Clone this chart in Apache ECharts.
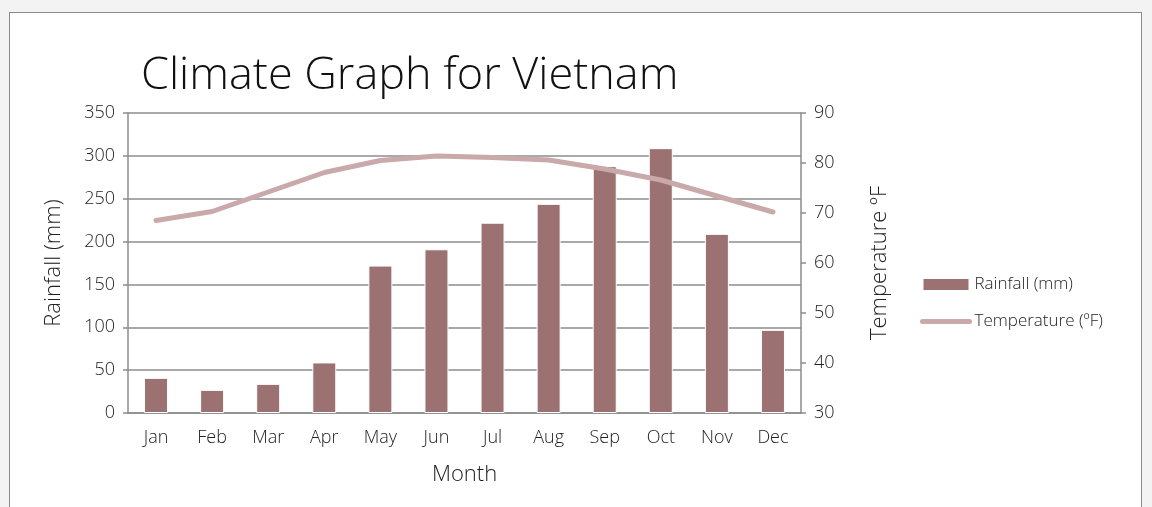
<!DOCTYPE html>
<html>
<head>
<meta charset="utf-8">
<script src="https://cdn.jsdelivr.net/npm/echarts@6/dist/echarts.min.js"></script>
<style>
  html, body { margin: 0; padding: 0; background: #f3f3f3; }
  #frame { position: absolute; left: 9px; top: 12px; width: 1131px; height: 520px; background: #fff; border: 1.5px solid #8a8a8a; }
  #chart { position: absolute; left: 0; top: 0; width: 1152px; height: 507px; }
</style>
</head>
<body>
<div id="frame"></div>
<div id="chart"></div>
<script>
const months = ['Jan', 'Feb', 'Mar', 'Apr', 'May', 'Jun', 'Jul', 'Aug', 'Sep', 'Oct', 'Nov', 'Dec']
const rainfall = [41, 27, 34, 59, 172, 191, 222, 244, 288, 309, 209, 97]
const temperature = [68.5, 70.3, 74.2, 78.1, 80.5, 81.4, 81.1, 80.6, 78.8, 76.6, 73.4, 70.2]

const font = 'Open Sans'
const textColor = '#222'
const axisGray = '#8c8c8c'
const lineColor = '#c9a9aa'

const chart = echarts.init(document.getElementById('chart'))
chart.setOption({
  backgroundColor: 'transparent',
  textStyle: { fontFamily: font, fontWeight: 300 },
  title: {
    text: 'Climate Graph for Vietnam',
    left: 136,
    top: 49,
    textStyle: { fontFamily: font, fontSize: 45, fontWeight: 300, color: '#111' },
  },
  legend: {
    orient: 'vertical',
    left: 915,
    top: 271,
    itemWidth: 47,
    itemHeight: 13,
    itemGap: 20,
    textStyle: { fontFamily: font, fontWeight: 300, fontSize: 17, color: textColor },
    data: [
      { name: 'Rainfall (mm)', icon: 'rect' },
      { name: 'Temperature (ºF)', itemStyle: { opacity: 0 }, lineStyle: { width: 5, color: lineColor } },
    ],
  },
  grid: { left: 128, right: 351, top: 113, height: 300 },
  xAxis: {
    type: 'category',
    data: months,
    name: 'Month',
    nameLocation: 'middle',
    nameGap: 51,
    nameTextStyle: { fontFamily: font, fontWeight: 300, fontSize: 22, color: textColor },
    axisLine: { lineStyle: { color: axisGray, width: 1.5 } },
    axisTick: { length: 6, lineStyle: { color: axisGray, width: 1.5 } },
    axisLabel: { fontFamily: font, fontWeight: 300, fontSize: 18, color: textColor, margin: 16 },
  },
  yAxis: [
    {
      type: 'value',
      min: 0,
      max: 350,
      interval: 50,
      name: 'Rainfall (mm)',
      nameLocation: 'middle',
      nameGap: 63,
      nameTextStyle: { fontFamily: font, fontWeight: 300, fontSize: 22, color: textColor },
      axisLine: { show: true, lineStyle: { color: axisGray, width: 1.5 } },
      axisTick: { show: true, length: 5, lineStyle: { color: axisGray, width: 1.5 } },
      axisLabel: { fontFamily: font, fontWeight: 300, fontSize: 18, color: textColor, margin: 13 },
      splitLine: { lineStyle: { color: axisGray, width: 1.5 } },
    },
    {
      type: 'value',
      min: 30,
      max: 90,
      interval: 10,
      position: 'right',
      name: 'Temperature ºF',
      nameLocation: 'middle',
      nameGap: 68,
      nameRotate: 90,
      nameTextStyle: { fontFamily: font, fontWeight: 300, fontSize: 22, color: textColor },
      axisLine: { show: true, lineStyle: { color: axisGray, width: 1.5 } },
      axisTick: { show: true, length: 5, lineStyle: { color: axisGray, width: 1.5 } },
      axisLabel: { fontFamily: font, fontWeight: 300, fontSize: 18, color: textColor, margin: 13 },
      splitLine: { show: false },
    },
  ],
  series: [
    {
      name: 'Rainfall (mm)',
      type: 'bar',
      data: rainfall,
      barWidth: 24,
      itemStyle: { color: '#9b7171', borderColor: '#fff', borderWidth: 1 },
    },
    {
      name: 'Temperature (ºF)',
      type: 'line',
      yAxisIndex: 1,
      data: temperature,
      symbol: 'none',
      lineStyle: { color: lineColor, width: 5, cap: 'round', join: 'round' },
      itemStyle: { color: lineColor },
    },
  ],
})
</script>
</body>
</html>
